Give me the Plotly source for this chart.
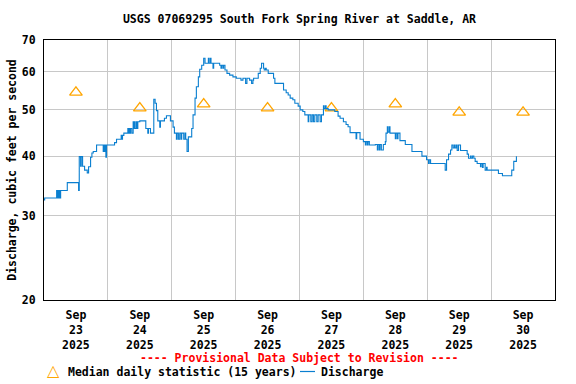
import math
import plotly.graph_objects as go

# ---------------- data ----------------
title_text = "USGS 07069295 South Fork Spring River at Saddle, AR"

discharge_times = [
    "2025-09-23 00:00", "2025-09-23 00:15", "2025-09-23 04:45", "2025-09-23 05:00", "2025-09-23 05:15",
    "2025-09-23 05:30", "2025-09-23 05:45", "2025-09-23 06:00", "2025-09-23 06:15", "2025-09-23 08:45",
    "2025-09-23 13:00", "2025-09-23 13:15", "2025-09-23 13:45", "2025-09-23 14:00", "2025-09-23 14:30",
    "2025-09-23 15:15", "2025-09-23 16:15", "2025-09-23 16:45", "2025-09-23 17:30", "2025-09-23 18:00",
    "2025-09-23 18:30", "2025-09-23 19:45", "2025-09-23 22:15", "2025-09-23 22:30", "2025-09-23 22:45",
    "2025-09-23 23:00", "2025-09-23 23:15", "2025-09-23 23:30",
    "2025-09-24 02:30", "2025-09-24 03:15", "2025-09-24 05:00", "2025-09-24 05:15", "2025-09-24 05:30",
    "2025-09-24 06:00", "2025-09-24 07:30", "2025-09-24 07:45", "2025-09-24 08:00", "2025-09-24 08:15",
    "2025-09-24 08:30", "2025-09-24 09:00", "2025-09-24 09:30", "2025-09-24 09:45", "2025-09-24 10:00",
    "2025-09-24 10:15", "2025-09-24 10:45", "2025-09-24 11:00", "2025-09-24 11:15", "2025-09-24 12:00",
    "2025-09-24 14:15", "2025-09-24 15:00", "2025-09-24 15:15", "2025-09-24 16:00", "2025-09-24 17:15",
    "2025-09-24 17:45", "2025-09-24 18:15", "2025-09-24 18:45", "2025-09-24 19:30", "2025-09-24 19:45",
    "2025-09-24 21:15", "2025-09-24 22:00", "2025-09-24 23:30",
    "2025-09-25 00:30", "2025-09-25 01:00", "2025-09-25 01:45", "2025-09-25 02:00", "2025-09-25 02:30",
    "2025-09-25 03:00", "2025-09-25 03:30", "2025-09-25 03:45", "2025-09-25 04:30", "2025-09-25 05:00",
    "2025-09-25 05:15", "2025-09-25 05:45", "2025-09-25 06:15", "2025-09-25 07:30", "2025-09-25 08:00",
    "2025-09-25 08:45", "2025-09-25 09:15", "2025-09-25 10:00", "2025-09-25 10:30", "2025-09-25 11:15",
    "2025-09-25 12:00", "2025-09-25 12:30", "2025-09-25 13:45", "2025-09-25 14:00", "2025-09-25 14:30",
    "2025-09-25 14:45", "2025-09-25 15:30", "2025-09-25 15:45", "2025-09-25 18:00", "2025-09-25 18:30",
    "2025-09-25 18:45", "2025-09-25 19:15", "2025-09-25 19:30", "2025-09-25 20:00", "2025-09-25 20:45",
    "2025-09-25 21:45", "2025-09-25 23:00",
    "2025-09-26 00:15", "2025-09-26 02:00", "2025-09-26 02:45", "2025-09-26 03:45", "2025-09-26 04:15",
    "2025-09-26 05:15", "2025-09-26 06:00", "2025-09-26 06:30", "2025-09-26 06:45", "2025-09-26 08:30",
    "2025-09-26 09:15", "2025-09-26 09:45", "2025-09-26 10:30", "2025-09-26 10:45", "2025-09-26 11:15",
    "2025-09-26 11:30", "2025-09-26 12:15", "2025-09-26 14:15", "2025-09-26 14:45", "2025-09-26 18:00",
    "2025-09-26 19:00", "2025-09-26 19:45", "2025-09-26 20:30", "2025-09-26 21:30", "2025-09-26 22:15",
    "2025-09-26 23:30",
    "2025-09-27 00:15", "2025-09-27 01:15", "2025-09-27 02:00", "2025-09-27 03:15", "2025-09-27 03:30",
    "2025-09-27 04:15", "2025-09-27 04:45", "2025-09-27 05:15", "2025-09-27 05:45", "2025-09-27 06:30",
    "2025-09-27 07:00", "2025-09-27 07:45", "2025-09-27 08:15", "2025-09-27 09:00", "2025-09-27 09:15",
    "2025-09-27 09:45", "2025-09-27 10:00", "2025-09-27 10:45", "2025-09-27 13:15", "2025-09-27 14:30",
    "2025-09-27 15:15", "2025-09-27 16:30", "2025-09-27 17:30", "2025-09-27 18:15", "2025-09-27 19:00",
    "2025-09-27 21:15", "2025-09-27 21:30", "2025-09-27 22:45",
    "2025-09-28 00:00", "2025-09-28 00:45", "2025-09-28 01:00", "2025-09-28 01:30", "2025-09-28 01:45",
    "2025-09-28 02:15", "2025-09-28 04:30", "2025-09-28 05:15", "2025-09-28 05:30", "2025-09-28 06:00",
    "2025-09-28 06:15", "2025-09-28 06:45", "2025-09-28 07:30", "2025-09-28 08:15", "2025-09-28 08:30",
    "2025-09-28 09:00", "2025-09-28 09:15", "2025-09-28 09:45", "2025-09-28 10:00", "2025-09-28 12:00",
    "2025-09-28 12:15", "2025-09-28 12:45", "2025-09-28 13:00", "2025-09-28 13:45", "2025-09-28 15:45",
    "2025-09-28 18:15", "2025-09-28 22:00", "2025-09-28 23:45",
    "2025-09-29 00:30", "2025-09-29 00:45", "2025-09-29 01:15", "2025-09-29 06:45", "2025-09-29 07:15",
    "2025-09-29 08:00", "2025-09-29 08:45", "2025-09-29 09:15", "2025-09-29 09:45", "2025-09-29 10:15",
    "2025-09-29 10:30", "2025-09-29 11:00", "2025-09-29 11:15", "2025-09-29 11:45", "2025-09-29 12:30",
    "2025-09-29 15:00", "2025-09-29 15:30", "2025-09-29 16:15", "2025-09-29 16:30", "2025-09-29 17:00",
    "2025-09-29 17:30", "2025-09-29 18:00", "2025-09-29 18:45", "2025-09-29 20:00", "2025-09-29 20:15",
    "2025-09-29 20:45", "2025-09-29 21:00", "2025-09-29 21:45", "2025-09-29 22:15", "2025-09-29 22:30",
    "2025-09-30 02:45", "2025-09-30 04:15", "2025-09-30 07:45", "2025-09-30 08:30", "2025-09-30 09:30",
]

discharge_cfs = [
    32.4, 32.7, 33.9, 32.7, 33.9,
    32.7, 33.9, 32.7, 33.9, 35.2,
    33.9, 39.9, 38.1, 39.9, 38.1,
    37.4, 36.9, 38.0, 39.8, 40.6,
    40.9, 42.2, 40.9, 42.2, 40.9,
    42.2, 39.8, 42.2,
    42.7, 43.4, 44.2, 43.4, 44.2,
    44.7, 45.7, 44.7, 45.7, 44.7,
    45.7, 44.7, 47.2, 45.7, 47.2,
    45.7, 47.2, 45.7, 47.2, 47.4,
    45.7, 44.7, 45.7, 44.7, 52.6,
    51.6, 49.8, 47.4, 46.0, 47.4,
    48.0, 48.6, 47.4,
    46.0, 44.7, 43.4, 44.7, 43.4,
    44.7, 43.4, 44.7, 43.4, 44.7,
    43.4, 40.9, 43.9, 45.7, 48.8,
    52.9, 55.9, 58.6, 60.8, 62.0,
    64.1, 62.6, 64.1, 62.6, 64.1,
    62.6, 61.1, 62.6, 62.0, 61.1,
    62.0, 61.1, 62.0, 60.6, 59.6,
    59.1, 58.6,
    58.2, 57.7, 58.2, 56.8, 58.2,
    57.7, 56.8, 57.7, 58.2, 59.6,
    61.1, 62.6, 61.1, 60.6, 61.1,
    60.6, 59.6, 58.2, 56.8, 55.0,
    54.3, 53.7, 52.9, 52.5, 51.6,
    50.9,
    50.0, 49.6, 48.8, 47.2, 48.8,
    47.2, 48.8, 47.2, 48.8, 47.2,
    48.8, 47.2, 48.8, 51.0, 50.3,
    51.0, 50.3, 50.0, 49.6, 48.5,
    48.0, 47.2, 46.6, 46.1, 44.8,
    43.5, 44.8, 43.4,
    42.9, 42.2, 42.9, 42.2, 42.9,
    42.2, 42.3, 41.2, 42.3, 41.2,
    42.3, 41.2, 42.3, 42.9, 44.7,
    46.1, 44.9, 46.1, 44.7, 43.5,
    44.7, 43.5, 44.7, 43.1, 42.3,
    40.9, 40.0, 39.3,
    38.6, 39.3, 38.6, 37.4, 39.3,
    40.4, 41.2, 42.2, 41.6, 42.2,
    41.6, 42.2, 41.1, 42.2, 41.1,
    40.4, 39.6, 40.0, 39.6, 40.0,
    39.6, 39.0, 38.6, 38.0, 38.6,
    37.9, 38.6, 37.4, 37.9, 37.4,
    36.8, 36.4, 37.4, 39.0, 40.0,
]

median_days = ["2025-09-23 12:00", "2025-09-24 12:00", "2025-09-25 12:00", "2025-09-26 12:00",
               "2025-09-27 12:00", "2025-09-28 12:00", "2025-09-29 12:00", "2025-09-30 12:00"]
median_cfs = [54.4, 50.4, 51.4, 50.4, 50.4, 51.4, 49.4, 49.4]

x_tick_vals = median_days
x_tick_text = ["Sep<br>23<br>2025", "Sep<br>24<br>2025", "Sep<br>25<br>2025", "Sep<br>26<br>2025",
               "Sep<br>27<br>2025", "Sep<br>28<br>2025", "Sep<br>29<br>2025", "Sep<br>30<br>2025"]
day_boundaries = ["2025-09-24", "2025-09-25", "2025-09-26", "2025-09-27",
                  "2025-09-28", "2025-09-29", "2025-09-30"]
y_tick_vals = [20, 30, 40, 50, 60, 70]
x_range = ["2025-09-23 00:00", "2025-10-01 00:00"]
y_range = [20, 70]

median_label = "Median daily statistic (15 years)"
discharge_label = "Discharge"
provisional_note = "---- Provisional Data Subject to Revision ----"

# ---------------- figure ----------------
FONT = "DejaVu Sans Mono"
FS = 11.5
BLUE = "#0A7FD0"
ORANGE = "#FFA500"
W, H = 576, 384
L, R, T, B = 44, 21, 40, 84
PW, PH = W - L - R, H - T - B


def px(xp):
    return (xp - L) / PW


def py(yp):
    return (H - B - yp) / PH


fig = go.Figure()
fig.add_trace(go.Scatter(
    x=median_days, y=median_cfs, mode="markers", name=median_label,
    marker=dict(symbol="triangle-up-open", size=11, color=ORANGE, line=dict(width=1.3, color=ORANGE)),
))
fig.add_trace(go.Scatter(
    x=discharge_times, y=discharge_cfs, mode="lines", name=discharge_label,
    line=dict(shape="hv", color=BLUE, width=1.1),
))

annotations = [
    dict(text="<b>" + provisional_note + "</b>", xref="paper", yref="paper",
         x=px(299), y=py(358), xanchor="center", yanchor="middle", showarrow=False,
         font=dict(family=FONT, size=FS, color="#FF0000")),
    dict(text="△", xref="paper", yref="paper", x=px(53), y=py(370), xanchor="center", yanchor="middle",
         showarrow=False, font=dict(family="DejaVu Sans", size=16, color=ORANGE)),
    dict(text="<b>" + median_label + "</b>", xref="paper", yref="paper", x=px(66), y=py(372),
         xanchor="left", yanchor="middle", showarrow=False, font=dict(family=FONT, size=FS, color="black")),
    dict(text="<b>" + discharge_label + "</b>", xref="paper", yref="paper", x=px(319), y=py(372),
         xanchor="left", yanchor="middle", showarrow=False, font=dict(family=FONT, size=FS, color="black")),
]
shapes = [dict(type="line", xref="paper", yref="paper", x0=px(300), x1=px(315), y0=py(371.5), y1=py(371.5),
               line=dict(color=BLUE, width=1.2))]

fig.update_layout(
    width=W, height=H,
    margin=dict(l=L, r=R, t=T, b=B, autoexpand=False),
    paper_bgcolor="white", plot_bgcolor="white",
    font=dict(family=FONT, size=FS, color="black"),
    title=dict(text="<b>" + title_text + "</b>", x=(L + W - R) / 2 / W, xanchor="center",
               y=1 - 19 / H, yanchor="middle", font=dict(family=FONT, size=FS, color="black")),
    showlegend=False,
    annotations=annotations,
    shapes=shapes,
)

fig.update_xaxes(
    type="date", range=x_range, automargin=False,
    tickmode="array", tickvals=x_tick_vals,
    ticktext=["<b>" + t.replace("<br>", "</b><br><b>") + "</b>" for t in x_tick_text],
    showgrid=False, ticks="", tickangle=0, ticklabelstandoff=4,
    minor=dict(tickmode="array", tickvals=day_boundaries, showgrid=True, gridcolor="#C8C8C8", gridwidth=1, ticks=""),
    showline=True, linecolor="black", linewidth=1, mirror=True, zeroline=False,
    tickfont=dict(family=FONT, size=FS, color="black"),
)
fig.update_yaxes(
    type="log", range=[math.log10(y_range[0]), math.log10(y_range[1])], automargin=False,
    tickmode="array", tickvals=y_tick_vals, ticktext=["<b>%d</b>" % v for v in y_tick_vals],
    showgrid=True, gridcolor="#C8C8C8", gridwidth=1, ticks="", ticklabelstandoff=5,
    showline=True, linecolor="black", linewidth=1, mirror=True, zeroline=False,
    title=dict(text="<b>Discharge, cubic feet per second</b>", standoff=2,
               font=dict(family=FONT, size=FS, color="black")),
    tickfont=dict(family=FONT, size=FS, color="black"),
)

fig.write_html("out.html", config={"displayModeBar": False},
               post_script="document.body.style.margin='0';")
